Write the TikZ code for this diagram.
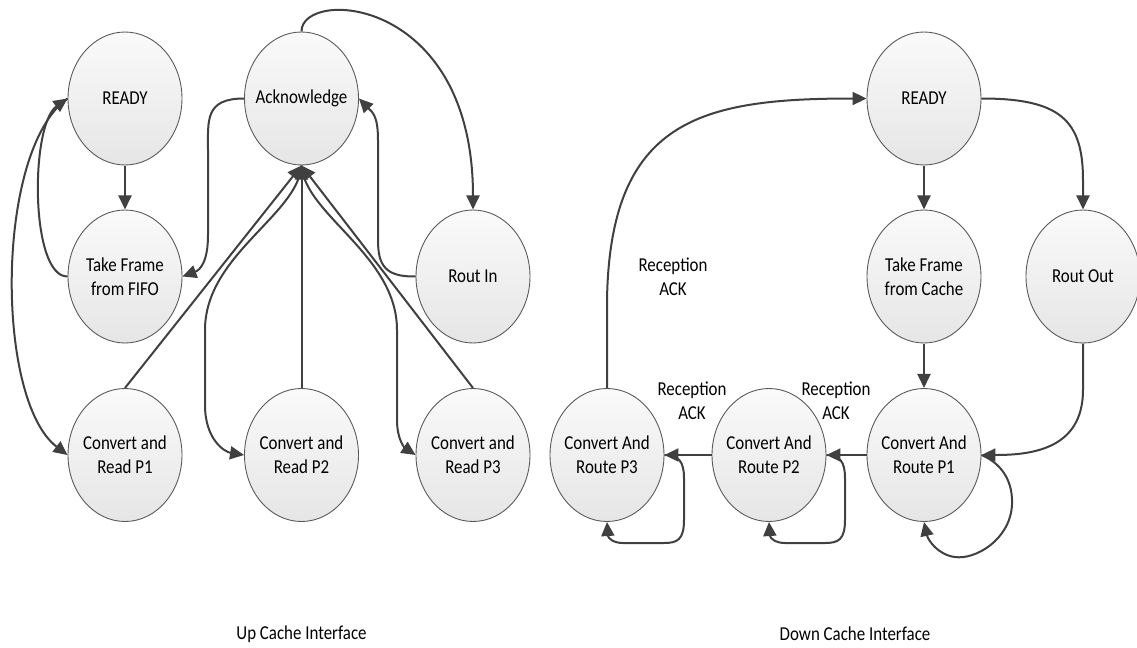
\documentclass[tikz,border=0pt]{standalone}
\usepackage{fontspec}
\setmainfont{Carlito}
\usetikzlibrary{arrows.meta}
\definecolor{edgegray}{HTML}{404040}
\definecolor{rimgray}{HTML}{5A5A5A}
\begin{document}
\begin{tikzpicture}[x=0.5pt,y=-0.5pt,
  state/.style={circle, draw=rimgray, line width=0.45pt,
    top color=white!98!black, bottom color=white!90!black,
    minimum size=57pt, inner sep=0pt, align=center, yscale=1.1667,
    font=\fontsize{8.45}{10.3}\selectfont},
  tag/.style={align=center, inner sep=0pt, yscale=1.1667,
    font=\fontsize{8.45}{10.3}\selectfont},
  plain/.style={draw=edgegray, line width=1pt},
  link/.style={plain, -{Triangle[length=7pt,width=6.5pt]}}]

\fill[white] (0,0) rectangle (1137,648);
\useasboundingbox (0,0) rectangle (1137,648);

% ---------- up cache interface ----------
\node[state] (rdyL)  at (125,98.5)   {READY};
\node[state] (ack)   at (301.5,98.5) {Acknowledge};
\node[state] (takeL) at (125,276.5)  {Take Frame\\from FIFO};
\node[state] (rin)   at (473,276.5)  {Rout In};
\node[state] (crp1)  at (125,455)    {Convert and\\Read P1};
\node[state] (crp2)  at (301.5,455)  {Convert and\\Read P2};
\node[state] (crp3)  at (473,455)    {Convert and\\Read P3};
\node[tag]   (upl)   at (301.5,634)  {Up Cache Interface};

\draw[link] (rdyL.south) -- (takeL.north);
\draw[link] (takeL.west) .. controls (30,277) and (30,125) .. (rdyL.west);
\draw[link] (rdyL.west) .. controls (-5,150) and (-5,400) .. (crp1.west);
\draw[link] (ack.west) .. controls (205,98.5) and (208,120) .. (208,150)
  -- (208,235) .. controls (208,262) and (200,270) .. (takeL.east);
\draw[link] (rin.west) .. controls (385,277) and (378,265) .. (378,240)
  -- (378,140) .. controls (378,115) and (372,112) .. (ack.east);
\draw[link] (ack.north) .. controls (301.5,-12) and (473,-5) .. (rin.north);
\draw[link] (crp1.north) -- (ack.south);
\draw[link] (crp2.north) -- (ack.south);
\draw[link] (crp3.north) -- (ack.south);
\draw[link] (ack.south) .. controls (298,215) and (205,255) .. (205,330)
  -- (205,405) .. controls (205,440) and (225,452) .. (crp2.west);
\draw[link] (ack.south) .. controls (305,215) and (397,255) .. (397,330)
  -- (397,420) .. controls (397,440) and (405,448) .. (crp3.west);

% ---------- down cache interface ----------
\node[state] (rdyR)  at (924,98.5)  {READY};
\node[state] (takeR) at (924,276.5) {Take Frame\\from Cache};
\node[state] (rout)  at (1083,276.5) {Rout Out};
\node[state] (car1)  at (924,455)   {Convert And\\Route P1};
\node[state] (car2)  at (769,455)   {Convert And\\Route P2};
\node[state] (car3)  at (607,455)   {Convert And\\Route P3};
\node[tag]   (ackA)  at (673,277)   {Reception\\ACK};
\node[tag]   (ackB)  at (692,400.5) {Reception\\ACK};
\node[tag]   (ackC)  at (836,400.5) {Reception\\ACK};
\node[tag]   (dnl)   at (855,634)   {Down Cache Interface};

\draw[link] (rdyR.south) -- (takeR.north);
\draw[link] (takeR.south) -- (car1.north);
\draw[link] (rdyR.east) .. controls (1060,98.5) and (1083,120) .. (1083,180)
  -- (rout.north);
\draw[link] (rout.south) -- (1083,390) .. controls (1083,450) and (1030,455) .. (car1.east);
\draw[link] (car1.east) .. controls (1005,465) and (1013,485) .. (1012,505)
  .. controls (1010,540) and (975,560) .. (955,557)
  .. controls (938,555) and (928,540) .. (car1.south);
\draw[link] (car1.west) -- (car2.east);
\draw[link] (car2.east) .. controls (840,455) and (845,462) .. (845,478)
  -- (845,520) .. controls (845,540) and (838,543) .. (825,543)
  -- (785,543) .. controls (775,543) and (770,538) .. (car2.south);
\draw[link] (car2.west) -- (car3.east);
\draw[link] (car3.east) .. controls (679,455) and (684,462) .. (684,478)
  -- (684,520) .. controls (684,540) and (677,543) .. (664,543)
  -- (623,543) .. controls (613,543) and (608,538) .. (car3.south);
\draw[link] (car3.north) -- (607,300) .. controls (610,120) and (700,98.5) .. (rdyR.west);
\end{tikzpicture}
\end{document}
